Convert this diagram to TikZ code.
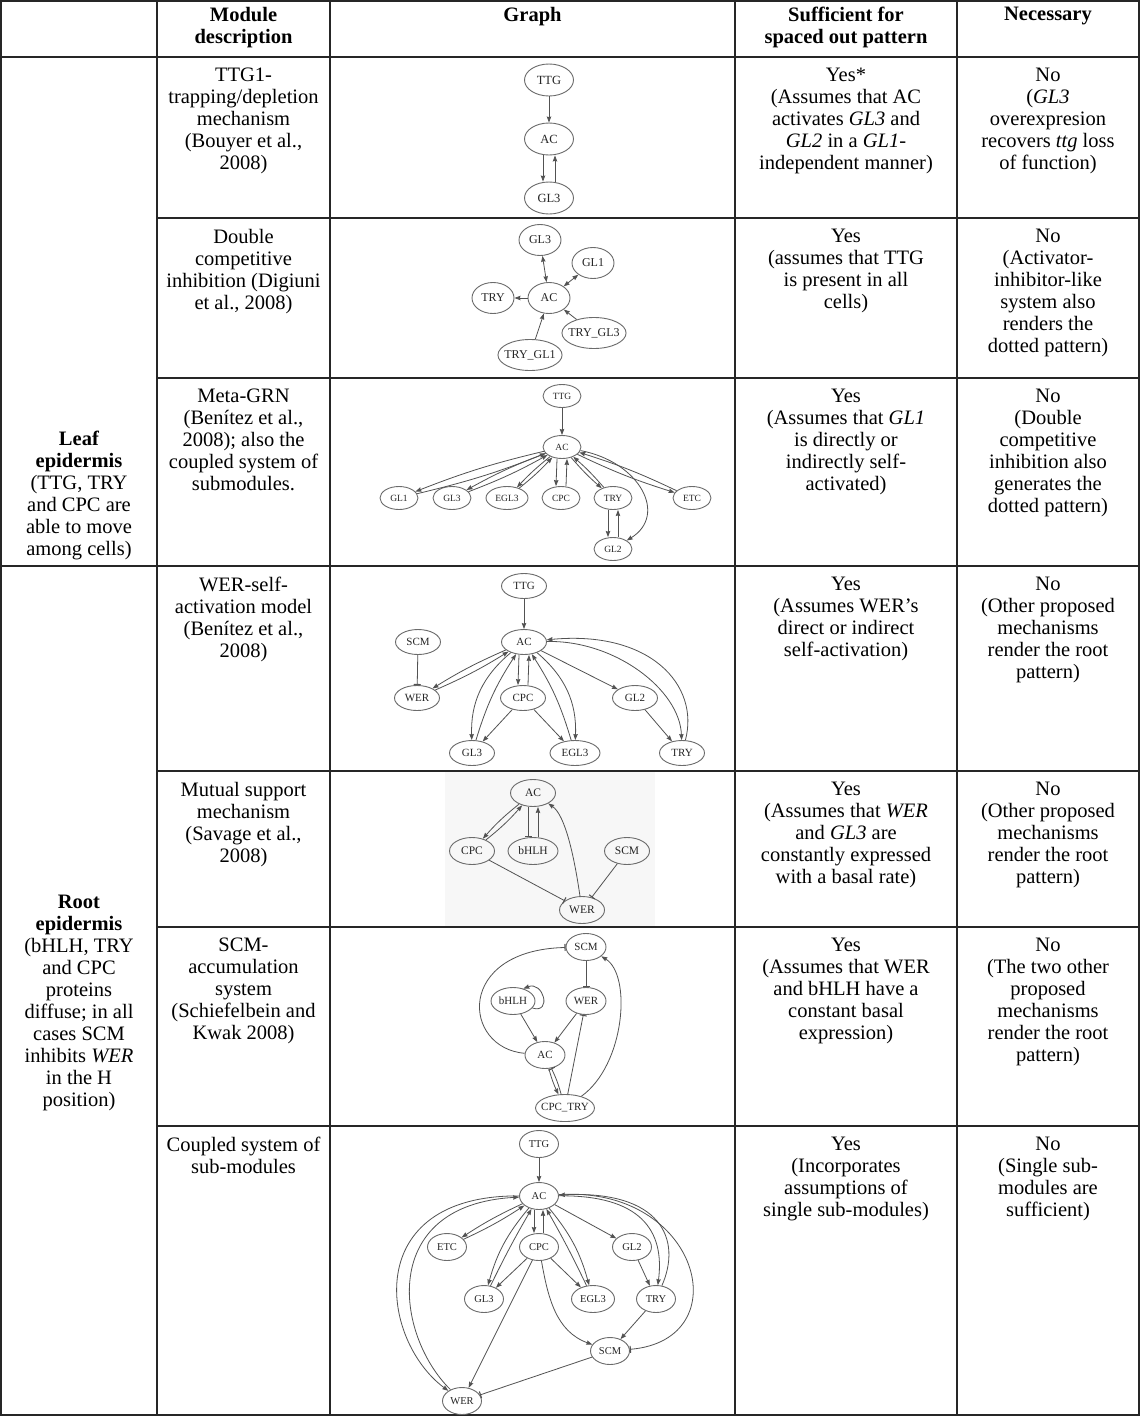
\documentclass[tikz,border=0pt]{standalone}
\usepackage{fontspec}
\setmainfont{Liberation Serif}
\usetikzlibrary{shapes.geometric, arrows.meta}

\definecolor{nodegray}{gray}{0.42}
\definecolor{edgegray}{gray}{0.32}
\definecolor{rulegray}{gray}{0.15}

\newcommand{\cellfont}{\fontsize{20.5}{22}\selectfont}

\tikzset{
  >={Stealth[length=6pt, width=4.4pt, inset=0.6pt]},
  tline/.style={draw=rulegray, line width=1.6pt},
  bodycell/.style={anchor=north, align=center, inner sep=0pt, font=\cellfont},
  headcell/.style={bodycell, font=\cellfont\bfseries},
  gene/.style={ellipse, draw=nodegray, line width=0.9pt, inner ysep=0pt, inner xsep=-3pt,
    minimum width=42pt, minimum height=28pt, text=black!85, font=\fontsize{11.5}{12}\selectfont},
  act/.style={->, draw=edgegray, line width=0.8pt},
  dual/.style={<->, draw=edgegray, line width=0.8pt},
  inh/.style={-{Bar[width=7pt, line width=1.1pt]}, draw=edgegray, line width=0.8pt},
}

\begin{document}
\begin{tikzpicture}[x=1pt, y=-1pt]
  \fill[white] (0,0) rectangle (1140,1416);
  \useasboundingbox (0,0) rectangle (1140,1416);
  % faint backdrop behind the mutual support graph
  \fill[black!3] (445,772) rectangle (655,926);

  % table rules
  \draw[tline] (1,1) rectangle (1139,1415);
  \draw[tline, line width=2.2pt] (1,57) -- (1139,57);
  \draw[tline] (157,218) -- (1139,218);
  \draw[tline] (157,378) -- (1139,378);
  \draw[tline] (1,566) -- (1139,566);
  \draw[tline] (157,771) -- (1139,771);
  \draw[tline] (157,927) -- (1139,927);
  \draw[tline] (157,1126) -- (1139,1126);
  \foreach \x in {157,330,735,957} \draw[tline] (\x,1) -- (\x,1415);

  % header
  \node[headcell] (hmod) at (243.5,7) {Module\\description};
  \node[headcell] (hgraph) at (532.5,7) {Graph};
  \node[headcell] (hsuf) at (846,7) {Sufficient for\\spaced out pattern};
  \node[headcell] (hnec) at (1048,7) {Necessary};

  % tissue labels
  \node[bodycell] (leaf) at (79,431) {\textbf{Leaf}\\\textbf{epidermis}\\(TTG, TRY\\and CPC are\\able to move\\among cells)};
  \node[bodycell] (root) at (79,895) {\textbf{Root}\\\textbf{epidermis}\\(bHLH, TRY\\and CPC\\proteins\\diffuse; in all\\cases SCM\\inhibits \textit{WER}\\in the H\\position)};

  % row 1
  \node[bodycell] (mod1) at (243.5,68) {TTG1-\\trapping/depletion\\mechanism\\(Bouyer et al.,\\2008)};
  \node[bodycell] (suf1) at (846,68) {Yes*\\(Assumes that AC\\activates \textit{GL3} and\\\textit{GL2} in a \textit{GL1}-\\independent manner)};
  \node[bodycell] (nec1) at (1048,68) {No\\(\textit{GL3}\\overexpresion\\recovers \textit{ttg} loss\\of function)};
  % row 2
  \node[bodycell] (mod2) at (243.5,229) {Double\\competitive\\inhibition (Digiuni\\et al., 2008)};
  \node[bodycell] (suf2) at (846,229) {Yes\\(assumes that TTG\\is present in all\\cells)};
  \node[bodycell] (nec2) at (1048,229) {No\\(Activator-\\inhibitor-like\\system also\\renders the\\dotted pattern)};
  % row 3
  \node[bodycell] (mod3) at (243.5,389) {Meta-GRN\\(Benítez et al.,\\2008); also the\\coupled system of\\submodules.};
  \node[bodycell] (suf3) at (846,389) {Yes\\(Assumes that \textit{GL1}\\is directly or\\indirectly self-\\activated)};
  \node[bodycell] (nec3) at (1048,389) {No\\(Double\\competitive\\inhibition also\\generates the\\dotted pattern)};
  % row 4
  \node[bodycell] (mod4) at (243.5,577) {WER-self-\\activation model\\(Benítez et al.,\\2008)};
  \node[bodycell] (suf4) at (846,577) {Yes\\(Assumes WER’s\\direct or indirect\\self-activation)};
  \node[bodycell] (nec4) at (1048,577) {No\\(Other proposed\\mechanisms\\render the root\\pattern)};
  % row 5
  \node[bodycell] (mod5) at (243.5,782) {Mutual support\\mechanism\\(Savage et al.,\\2008)};
  \node[bodycell] (suf5) at (846,782) {Yes\\(Assumes that \textit{WER}\\and \textit{GL3} are\\constantly expressed\\with a basal rate)};
  \node[bodycell] (nec5) at (1048,782) {No\\(Other proposed\\mechanisms\\render the root\\pattern)};
  % row 6
  \node[bodycell] (mod6) at (243.5,938) {SCM-\\accumulation\\system\\(Schiefelbein and\\Kwak 2008)};
  \node[bodycell] (suf6) at (846,938) {Yes\\(Assumes that WER\\and bHLH have a\\constant basal\\expression)};
  \node[bodycell] (nec6) at (1048,938) {No\\(The two other\\proposed\\mechanisms\\render the root\\pattern)};
  % row 7
  \node[bodycell] (mod7) at (243.5,1137) {Coupled system of\\sub-modules};
  \node[bodycell] (suf7) at (846,1137) {Yes\\(Incorporates\\assumptions of\\single sub-modules)};
  \node[bodycell] (nec7) at (1048,1137) {No\\(Single sub-\\modules are\\sufficient)};

  % graph 1
  \begin{scope}[gene/.append style={minimum width=49pt, minimum height=32pt, font=\fontsize{12.5}{13}\selectfont}]
    \node[gene] (g1ttg) at (549,80) {TTG};
    \node[gene] (g1ac) at (549,139) {AC};
    \node[gene] (g1gl3) at (549,198) {GL3};
    \draw[act] (g1ttg) -- (g1ac);
    \draw[act] ([xshift=-6pt]g1ac.south) -- ([xshift=-6pt]g1gl3.north);
    \draw[act] ([xshift=6pt]g1gl3.north) -- ([xshift=6pt]g1ac.south);
  \end{scope}

  % graph 2
  \begin{scope}[gene/.append style={minimum width=42pt, minimum height=31pt, font=\fontsize{12}{13}\selectfont}]
    \node[gene] (g2gl3) at (540,240) {GL3};
    \node[gene] (g2gl1) at (593,263) {GL1};
    \node[gene] (g2try) at (493,298) {TRY};
    \node[gene] (g2ac) at (549,298) {AC};
    \node[gene] (g2tg3) at (594,333) {TRY\_GL3};
    \node[gene] (g2tg1) at (530,355) {TRY\_GL1};
    \draw[dual] (g2ac) -- (g2gl3);
    \draw[dual] (g2ac) -- (g2gl1);
    \draw[act] (g2ac) -- (g2try);
    \draw[act] (g2tg3) -- (g2ac);
    \draw[act] (g2tg1) -- (g2ac);
  \end{scope}

  % graph 3
  \begin{scope}[gene/.append style={minimum width=38pt, minimum height=23pt, font=\fontsize{9.5}{10}\selectfont}]
    \node[gene] (g3ttg) at (562,396) {TTG};
    \node[gene] (g3ac) at (562,447) {AC};
    \node[gene] (g3gl1) at (399,498) {GL1};
    \node[gene] (g3gl3) at (452,498) {GL3};
    \node[gene, minimum width=42pt] (g3egl3) at (507,498) {EGL3};
    \node[gene] (g3cpc) at (561,498) {CPC};
    \node[gene] (g3try) at (613,498) {TRY};
    \node[gene] (g3etc) at (692,498) {ETC};
    \node[gene] (g3gl2) at (613,549) {GL2};
    \draw[act] (g3ttg) -- (g3ac);
    \foreach \g in {gl1, gl3, egl3, try, etc} {
      \draw[act] (g3ac) to[bend right=4] (g3\g);
      \draw[act] (g3\g) to[bend right=4] (g3ac);
    }
    \draw[act] ([xshift=-5pt]g3ac.south) -- ([xshift=-5pt]g3cpc.north);
    \draw[act] ([xshift=5pt]g3cpc.north) -- ([xshift=5pt]g3ac.south);
    \draw[act] ([xshift=-5pt]g3try.south) -- ([xshift=-5pt]g3gl2.north);
    \draw[act] ([xshift=5pt]g3gl2.north) -- ([xshift=5pt]g3try.south);
    \draw[act] (g3ac) .. controls (640,462) and (668,515) .. (g3gl2);
  \end{scope}

  % graph 4
  \begin{scope}[gene/.append style={minimum width=45pt, minimum height=25pt, font=\fontsize{11}{12}\selectfont}]
    \node[gene] (g4ttg) at (524,586) {TTG};
    \node[gene] (g4ac) at (524,642) {AC};
    \node[gene] (g4scm) at (418,642) {SCM};
    \node[gene] (g4wer) at (417,698) {WER};
    \node[gene] (g4cpc) at (523,698) {CPC};
    \node[gene] (g4gl2) at (635,698) {GL2};
    \node[gene] (g4gl3) at (472,753) {GL3};
    \node[gene, minimum width=50pt] (g4egl3) at (575,753) {EGL3};
    \node[gene] (g4try) at (682,753) {TRY};
    \draw[act] (g4ttg) -- (g4ac);
    \draw[inh] (g4scm) -- (g4wer);
    \draw[act] (g4ac) to[bend right=4] (g4wer);
    \draw[act] (g4wer) to[bend right=4] (g4ac);
    \draw[act] ([xshift=-5pt]g4ac.south) -- ([xshift=-5pt]g4cpc.north);
    \draw[act] ([xshift=5pt]g4cpc.north) -- ([xshift=5pt]g4ac.south);
    \draw[act] (g4ac) to[bend right=26] (g4gl3);
    \draw[act] (g4gl3) to[bend left=8] (g4ac);
    \draw[act] (g4ac) to[bend left=26] (g4egl3);
    \draw[act] (g4egl3) to[bend right=8] (g4ac);
    \draw[act] (g4cpc) -- (g4gl3);
    \draw[act] (g4cpc) -- (g4egl3);
    \draw[act] (g4ac) -- (g4gl2);
    \draw[act] (g4gl2) -- (g4try);
    \draw[act] (g4ac) .. controls (615,640) and (680,690) .. (g4try);
    \draw[act] (g4try) .. controls (700,685) and (650,630) .. (g4ac);
  \end{scope}

  % graph 5
  \begin{scope}[gene/.append style={minimum width=45pt, minimum height=27pt, font=\fontsize{11.5}{12}\selectfont}]
    \node[gene] (g5ac) at (533,793) {AC};
    \node[gene] (g5cpc) at (472,851) {CPC};
    \node[gene, minimum width=50pt] (g5bhlh) at (533,851) {bHLH};
    \node[gene] (g5scm) at (627,851) {SCM};
    \node[gene] (g5wer) at (582,910) {WER};
    \draw[act] (g5ac) to[bend right=5] (g5cpc);
    \draw[act] (g5cpc) to[bend right=5] (g5ac);
    \draw[inh] ([xshift=-5pt]g5ac.south) -- ([xshift=-5pt]g5bhlh.north);
    \draw[act] ([xshift=5pt]g5bhlh.north) -- ([xshift=5pt]g5ac.south);
    \draw[act] (g5wer) .. controls (574,855) and (565,815) .. (g5ac);
    \draw[inh] (g5cpc) -- (g5wer);
    \draw[inh] (g5scm) -- (g5wer);
  \end{scope}

  % graph 6
  \begin{scope}[gene/.append style={minimum width=40pt, minimum height=27pt, font=\fontsize{11}{12}\selectfont}]
    \node[gene] (g6scm) at (586,947) {SCM};
    \node[gene, minimum width=44pt] (g6bhlh) at (513,1001) {bHLH};
    \node[gene] (g6wer) at (586,1001) {WER};
    \node[gene] (g6ac) at (545,1055) {AC};
    \node[gene] (g6ctry) at (565,1108) {CPC\_TRY};
    \draw[inh] (g6scm) -- (g6wer);
    \draw[act] (g6bhlh.-20) .. controls +(20,6) and +(20,-8) .. (g6bhlh.50);
    \draw[act] (g6bhlh) -- (g6ac);
    \draw[act] (g6wer) -- (g6ac);
    \draw[act] (g6ac) to[bend right=5] (g6ctry);
    \draw[inh] (g6ctry) to[bend right=5] (g6ac);
    \draw[inh] (g6ctry) -- (g6wer);
    \draw[act] (g6ctry) .. controls (625,1065) and (632,975) .. (g6scm);
    \draw[inh] (g6ac) .. controls (462,1048) and (455,950) .. (g6scm);
  \end{scope}

  % graph 7
  \begin{scope}[gene/.append style={minimum width=39pt, minimum height=27pt, font=\fontsize{10.5}{11}\selectfont}]
    \node[gene] (g7ttg) at (539,1144) {TTG};
    \node[gene] (g7ac) at (539,1196) {AC};
    \node[gene] (g7etc) at (447,1247) {ETC};
    \node[gene] (g7cpc) at (539,1247) {CPC};
    \node[gene] (g7gl2) at (632,1247) {GL2};
    \node[gene] (g7gl3) at (484,1299) {GL3};
    \node[gene, minimum width=43pt] (g7egl3) at (593,1299) {EGL3};
    \node[gene] (g7try) at (656,1299) {TRY};
    \node[gene] (g7scm) at (610,1351) {SCM};
    \node[gene] (g7wer) at (462,1401) {WER};
    \draw[act] (g7ttg) -- (g7ac);
    \draw[act] (g7ac) to[bend right=4] (g7etc);
    \draw[act] (g7etc) to[bend right=4] (g7ac);
    \draw[act] ([xshift=-5pt]g7ac.south) -- ([xshift=-5pt]g7cpc.north);
    \draw[act] ([xshift=4pt]g7cpc.north) -- ([xshift=4pt]g7ac.south);
    \draw[act] (g7ac) to[bend right=12] (g7gl3);
    \draw[act] (g7gl3) to[bend left=2] (g7ac);
    \draw[act] (g7cpc) -- (g7gl3);
    \draw[act] (g7cpc) -- (g7egl3);
    \draw[act] (g7ac) to[bend left=12] (g7egl3);
    \draw[act] (g7egl3) to[bend right=2] (g7ac);
    \draw[act] (g7ac) -- (g7gl2);
    \draw[act] (g7gl2) -- (g7try);
    \draw[act] (g7ac) .. controls (640,1195) and (665,1230) .. (g7try);
    \draw[act] (g7try) .. controls (682,1240) and (662,1190) .. (g7ac);
    \draw[act] (g7try) -- (g7scm);
    \draw[act] (g7cpc) to[out=-80, in=160] (g7scm);
    \draw[inh] (g7ac) .. controls (700,1185) and (740,1340) .. (g7scm);
    \draw[act] (g7cpc) -- (g7wer);
    \draw[inh] (g7scm) -- (g7wer);
    \draw[act] (g7ac) .. controls (360,1195) and (380,1340) .. (g7wer);
    \draw[act] (g7wer) .. controls (395,1335) and (378,1205) .. (g7ac);
  \end{scope}
\end{tikzpicture}
\end{document}
